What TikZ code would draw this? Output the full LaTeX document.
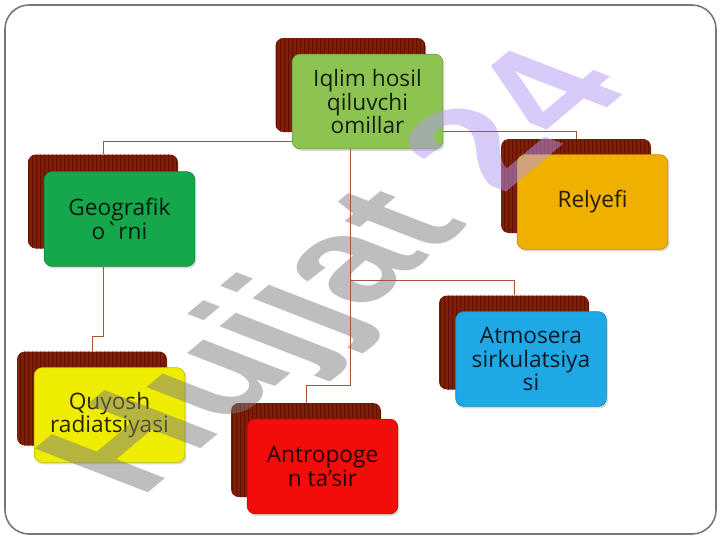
\documentclass[tikz,border=0pt]{standalone}
\usepackage{fontspec}
\usetikzlibrary{patterns,shadows}
\newfontfamily\boxfont{Open Sans}[Ligatures=TeXOff]
\newfontfamily\wmfont{Liberation Sans}[Ligatures=TeXOff]
\definecolor{backred}{RGB}{128,30,4}
\definecolor{stripe}{RGB}{96,14,0}
\definecolor{conncol}{RGB}{168,82,58}
\definecolor{framecol}{RGB}{120,120,120}
\definecolor{cIqlim}{RGB}{141,195,80}
\definecolor{cGeo}{RGB}{22,166,76}
\definecolor{cRel}{RGB}{240,176,0}
\definecolor{cAtm}{RGB}{30,169,230}
\definecolor{cQuy}{RGB}{238,236,0}
\definecolor{cAnt}{RGB}{242,12,10}
\definecolor{wmgray}{RGB}{125,125,125}
\definecolor{wmpurple}{RGB}{178,152,246}
\begin{document}
\begin{tikzpicture}[x=0.75pt,y=-0.75pt,
  backbox/.style={rectangle, rounded corners=6pt, minimum width=112.5pt,
    minimum height=70.5pt, fill=backred,
    postaction={pattern=vertical lines, pattern color=stripe}},
  frontbox/.style={rectangle, rounded corners=6pt, minimum width=113pt,
    minimum height=71pt, draw=#1!80!black, line width=0.5pt, fill=#1,
    drop shadow={shadow xshift=1.2pt, shadow yshift=-1.5pt, opacity=0.3},
    align=center, inner sep=2pt,
    font=\boxfont\fontsize{17}{17.5}\selectfont, text=#1!16!black},
  conn/.style={draw=conncol, line width=0.75pt},
  wmark/.style={rotate=40, xslant=-0.55, inner sep=0pt, opacity=0.5,
    font=\wmfont\bfseries\fontsize{116}{116}\selectfont}]
\useasboundingbox (0,0) rectangle (720,540);
\draw[framecol, line width=1.2pt, rounded corners=18pt] (5,5) rectangle (716,534);

% back boxes
\node[backbox] (iqb)  at (350.5,85)  {};
\node[backbox] (geob) at (103,201.5) {};
\node[backbox] (relb) at (576,186)   {};
\node[backbox] (atmb) at (514,342.5) {};
\node[backbox] (quyb) at (92,398.5)  {};
\node[backbox] (antb) at (306,450)   {};

% front boxes
\node[frontbox=cIqlim] (iqf)  at (367.5,101.5) {Iqlim hosil\\qiluvchi\\omillar};
\node[frontbox=cGeo]   (geof) at (119.5,219)   {Geografik\\o`rni};
\node[frontbox=cRel]   (relf) at (592.5,202)   {Relyefi};
\node[frontbox=cAtm]   (atmf) at (531,359)     {Atmosera\\sirkulatsiya\\si};
\node[frontbox=cQuy]   (quyf) at (109.5,415)   {Quyosh\\radiatsiyasi};
\node[frontbox=cAnt]   (antf) at (322.5,466.5) {Antropoge\\n ta’sir};

% watermark
\node[wmark] (wm) at (345,276) {\textcolor{wmgray}{Hujjat} \textcolor{wmpurple}{24}};

% connectors
\draw[conn] (iqf.west) ++(0,39.5) -| (geob.north);
\draw[conn] (iqf.east) ++(0,29.5) -| (relb.north);
\draw[conn] (iqb.center |- iqf.south) -- ++(0,236);
\draw[conn] (iqb.center |- iqf.south) ++(0,131) -| (atmb.north);
\draw[conn] (iqb.center |- iqf.south) ++(0,236) -| (antb.north);
\draw[conn] (geob.center |- geof.south) -- ++(0,70) -| (quyb.north);
\end{tikzpicture}
\end{document}
